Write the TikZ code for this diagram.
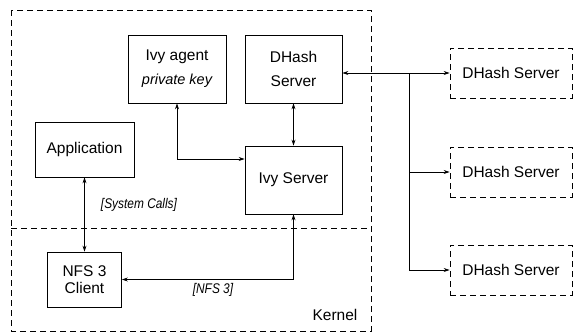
\documentclass[tikz,border=0pt]{standalone}
\usepackage{fontspec}
\setmainfont{Liberation Sans}
\usetikzlibrary{positioning,arrows.meta}

\newcommand{\narrowtext}[1]{\scalebox{0.85}[1]{#1}}

\begin{document}
\begin{tikzpicture}[x=1pt, y=-1pt, node distance=100pt, on grid,
    box/.style={draw, rectangle, align=center, line width=0.8pt, font=\fontsize{15.5}{17}\selectfont},
    remote/.style={box, dashed, dash pattern=on 6pt off 4pt, minimum width=122pt, minimum height=50pt},
    zone/.style={dashed, dash pattern=on 6pt off 4pt, line width=0.8pt},
    lbl/.style={font=\fontsize{14}{16}\selectfont\itshape},
    link/.style={<->, line width=0.7pt},
    >={Stealth[length=6pt, width=4pt]}]
    \useasboundingbox (0,0) rectangle (573,335);
    % hosts
    \draw[zone] (11,10) rectangle (371,331);
    \draw[zone] (11,228) -- (371,228);
    \node[font=\fontsize{15.5}{17}\selectfont] (kernel) at (335,315) {Kernel};
    % local nodes
    \node[box, minimum width=98pt, minimum height=68pt] (agent) at (177,69) {Ivy agent\\[7pt] {\fontsize{14.5}{17}\selectfont\itshape private key}};
    \node[box, minimum width=97pt, minimum height=68pt, right=116.5pt of agent] (dhash) {DHash\\[7pt]Server};
    \node[box, minimum width=97pt, minimum height=68pt, below=111pt of dhash] (ivy) {Ivy Server};
    \node[box, minimum width=99pt, minimum height=55pt] (app) at (84.5,149.5) {Application};
    \node[box, minimum width=74pt, minimum height=55pt, below=130pt of app] (nfs) {NFS 3\\Client};
    % remote servers
    \node[remote] (ext1) at (511,73) {DHash Server};
    \node[remote, below=99pt of ext1] (ext2) {DHash Server};
    \node[remote, below=98pt of ext2] (ext3) {DHash Server};
    \coordinate (split) at (409,73);
    % links
    \draw[link] (agent.south) |- ([yshift=21pt]ivy.west);
    \draw[link] (dhash) -- (ivy);
    \draw[link] (app.south) -- (app.south |- nfs.north);
    \draw[link] (ivy.south) |- (nfs.east);
    \draw[link] (dhash.east |- ext1.west) -- (ext1.west);
    \draw[->, line width=0.7pt] (split) |- (ext2.west);
    \draw[->, line width=0.7pt] (split) |- (ext3.west);
    \node[lbl] (syscalls) at (139,205) {\narrowtext{[System Calls]}};
    \node[lbl] (nfsproto) at (213,290) {\narrowtext{[NFS 3]}};
\end{tikzpicture}
\end{document}
